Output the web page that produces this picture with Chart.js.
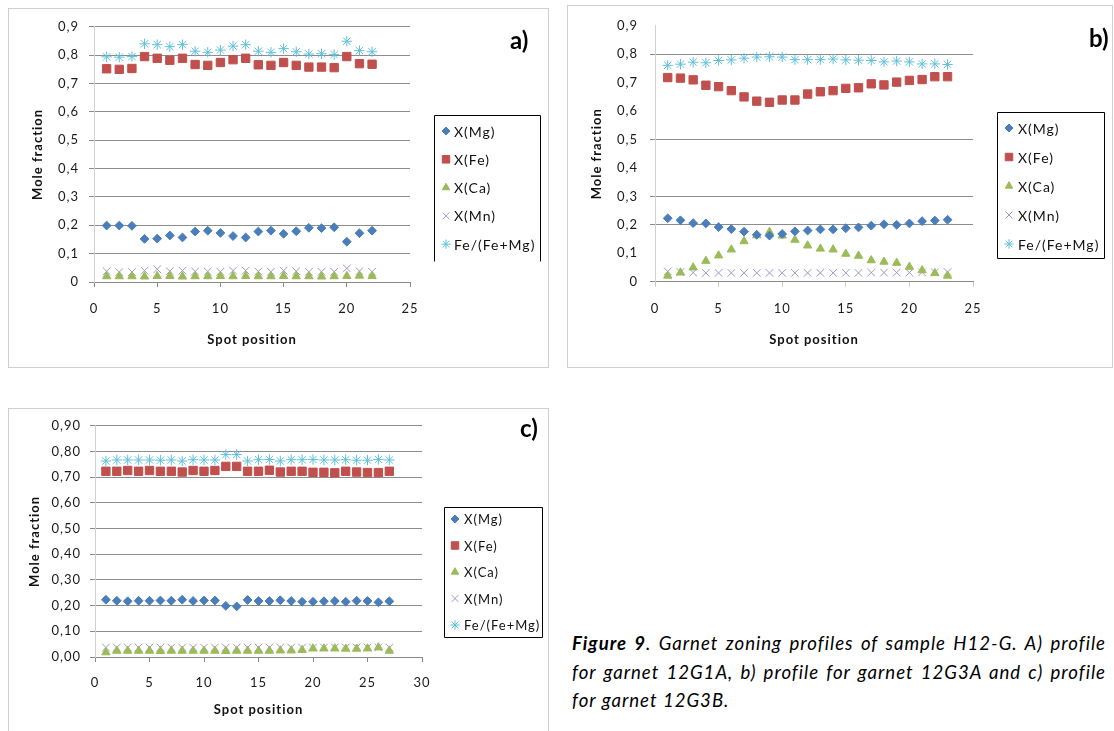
<!DOCTYPE html>
<html>
<head>
<meta charset="utf-8">
<script src="https://cdn.jsdelivr.net/npm/chart.js@4.4.1/dist/chart.umd.min.js"></script>
<style>
  html, body { margin:0; padding:0; background:#fff; }
  body { width:1114px; height:731px; position:relative; overflow:hidden; font-family: Lato, sans-serif; }
  .frame { position:absolute; box-sizing:border-box; border:1px solid #cfcfcf; background:#fff; }
  canvas { position:absolute; }
  .tag { position:absolute; font-weight:bold; font-size:24px; line-height:24px; color:#000; }
  .cap { position:absolute; left:572px; top:629px; width:534px; font-style:italic; font-size:18.6px; letter-spacing:1px; line-height:28.5px; color:#000; }
  .cap .j { text-align:justify; text-align-last:justify; white-space:nowrap; }
</style>
</head>
<body>
<div class="frame" style="left:8px;top:8px;width:541px;height:360px"></div>
<div class="frame" style="left:567px;top:5px;width:546px;height:363px"></div>
<div class="frame" style="left:8px;top:408px;width:541px;height:340px"></div>
<canvas id="ca" width="538" height="357" style="left:9px;top:9px"></canvas>
<canvas id="cb" width="543" height="360" style="left:568px;top:6px"></canvas>
<canvas id="cc" width="538" height="322" style="left:9px;top:409px"></canvas>
<div class="tag" style="left:510px;top:28px">a)</div>
<div class="tag" style="left:1089px;top:26px">b)</div>
<div class="tag" style="left:520px;top:416px">c)</div>
<div class="cap">
  <div class="j"><b>Figure 9</b>. Garnet zoning profiles of sample H12-G. A) profile</div>
  <div class="j">for garnet 12G1A, b) profile for garnet 12G3A and c) profile</div>
  <div>for garnet 12G3B.</div>
</div>
<script>
// ---------- data ----------
const seriesNames = ['X(Mg)', 'X(Fe)', 'X(Ca)', 'X(Mn)', 'Fe/(Fe+Mg)'];
const yLabelsAB = ['0', '0,1', '0,2', '0,3', '0,4', '0,5', '0,6', '0,7', '0,8', '0,9'];
const yLabelsC = ['0,00', '0,10', '0,20', '0,30', '0,40', '0,50', '0,60', '0,70', '0,80', '0,90'];

const spotsA = [1,2,3,4,5,6,7,8,9,10,11,12,13,14,15,16,17,18,19,20,21,22];
const mgA = [0.199,0.199,0.198,0.152,0.153,0.164,0.157,0.178,0.181,0.173,0.162,0.157,0.178,0.181,0.170,0.179,0.191,0.190,0.193,0.142,0.172,0.181];
const feA = [0.752,0.750,0.753,0.795,0.789,0.782,0.789,0.767,0.764,0.774,0.784,0.789,0.766,0.764,0.774,0.764,0.758,0.758,0.756,0.795,0.770,0.768];
const caA = [0.020,0.020,0.020,0.019,0.021,0.021,0.019,0.020,0.020,0.021,0.020,0.021,0.020,0.020,0.021,0.020,0.020,0.019,0.020,0.021,0.022,0.021];
const mnA = [0.038,0.035,0.035,0.040,0.045,0.038,0.040,0.037,0.037,0.036,0.040,0.040,0.037,0.036,0.040,0.038,0.036,0.036,0.036,0.048,0.038,0.036];
const ratioA = [0.794,0.793,0.795,0.840,0.837,0.830,0.837,0.814,0.810,0.818,0.832,0.837,0.814,0.810,0.823,0.812,0.804,0.805,0.802,0.849,0.816,0.812];

const spotsB = [1,2,3,4,5,6,7,8,9,10,11,12,13,14,15,16,17,18,19,20,21,22,23];
const mgB = [0.223,0.216,0.206,0.205,0.192,0.185,0.176,0.165,0.162,0.168,0.177,0.180,0.184,0.184,0.188,0.191,0.197,0.202,0.200,0.205,0.213,0.215,0.218];
const feB = [0.718,0.716,0.710,0.691,0.686,0.672,0.650,0.635,0.631,0.639,0.639,0.660,0.668,0.672,0.680,0.682,0.696,0.692,0.702,0.708,0.711,0.721,0.721];
const caB = [0.021,0.032,0.050,0.073,0.092,0.113,0.142,0.163,0.175,0.162,0.147,0.127,0.116,0.113,0.098,0.091,0.075,0.070,0.066,0.052,0.040,0.030,0.021];
const mnB = [0.036,0.034,0.032,0.031,0.031,0.031,0.031,0.031,0.031,0.031,0.031,0.031,0.031,0.031,0.031,0.031,0.032,0.032,0.032,0.032,0.033,0.033,0.034];
const ratioB = [0.761,0.765,0.772,0.770,0.778,0.780,0.786,0.790,0.791,0.790,0.781,0.781,0.781,0.783,0.780,0.779,0.778,0.773,0.776,0.773,0.766,0.766,0.764];

const spotsC = [1,2,3,4,5,6,7,8,9,10,11,12,13,14,15,16,17,18,19,20,21,22,23,24,25,26,27];
const mgC = [0.223,0.219,0.217,0.219,0.219,0.220,0.219,0.223,0.218,0.220,0.220,0.199,0.197,0.222,0.218,0.218,0.221,0.218,0.215,0.215,0.217,0.218,0.215,0.219,0.218,0.213,0.217];
const feC = [0.723,0.723,0.726,0.723,0.726,0.723,0.723,0.720,0.726,0.723,0.726,0.742,0.742,0.723,0.723,0.727,0.720,0.723,0.723,0.719,0.719,0.717,0.723,0.720,0.718,0.718,0.723];
const caC = [0.018,0.024,0.024,0.024,0.024,0.023,0.024,0.024,0.024,0.024,0.024,0.023,0.024,0.024,0.024,0.024,0.025,0.025,0.027,0.033,0.033,0.033,0.032,0.032,0.033,0.037,0.024];
const mnC = [0.037,0.037,0.037,0.037,0.037,0.037,0.037,0.037,0.037,0.037,0.037,0.037,0.037,0.037,0.037,0.037,0.037,0.037,0.037,0.037,0.037,0.037,0.037,0.037,0.037,0.037,0.037];
const ratioC = [0.763,0.767,0.767,0.767,0.767,0.766,0.767,0.763,0.768,0.767,0.767,0.788,0.788,0.763,0.768,0.769,0.763,0.768,0.768,0.769,0.767,0.767,0.768,0.766,0.766,0.769,0.767];

// gridlines that remain visible in chart b (by tick index)
const gridShownB = [0, 2, 3, 5, 8];

// ---------- styles ----------
const markerStyles = [
  { pointStyle:'rectRot',  radius:4.4, fill:'#4a7ebb', stroke:'#4a7ebb', bw:1 },
  { pointStyle:'rect',     radius:5.9, fill:'#c0504d', stroke:'#c0504d', bw:1 },
  { pointStyle:'triangle', radius:4.8, fill:'#9bbb59', stroke:'#9bbb59', bw:1 },
  { pointStyle:'crossRot', radius:5.4, fill:'#a493c8', stroke:'#a493c8', bw:1 },
  { pointStyle:'star',     radius:5.2, fill:'#5fc0dc', stroke:'#5fc0dc', bw:1 }
];

function makeDatasets(xs, ys) {
  return ys.map((vals, i) => ({
    label: seriesNames[i],
    data: xs.map((x, k) => ({ x: x, y: vals[k] })),
    showLine: false,
    pointStyle: markerStyles[i].pointStyle,
    pointRadius: markerStyles[i].radius,
    pointHoverRadius: markerStyles[i].radius,
    backgroundColor: markerStyles[i].fill,
    borderColor: markerStyles[i].stroke,
    borderWidth: markerStyles[i].bw
  }));
}

const spacingPlugin = {
  id: 'spacing',
  beforeDraw(chart) { chart.ctx.letterSpacing = '1px'; }
};

const boxLegend = {
  id: 'boxLegend',
  afterDraw(chart, args, o) {
    const ctx = chart.ctx;
    ctx.save();
    ctx.letterSpacing = '1px';
    ctx.strokeStyle = '#000';
    ctx.lineWidth = 1;
    ctx.beginPath();
    const L = Math.round(o.x) + 0.5, T = Math.round(o.y) + 0.5, R = Math.round(o.x + o.w) + 0.5, B = Math.round(o.y + o.h) + 0.5;
    ctx.moveTo(L, B); ctx.lineTo(L, T); ctx.lineTo(R, T); ctx.lineTo(R, B);
    if (o.closed) ctx.lineTo(L, B);
    ctx.stroke();
    ctx.font = o.fontSize + 'px Lato, sans-serif';
    ctx.textBaseline = 'middle';
    ctx.textAlign = 'left';
    chart.data.datasets.forEach((ds, i) => {
      const cy = o.firstY + i * o.gap;
      const ms = markerStyles[i];
      ctx.fillStyle = ms.fill;
      ctx.strokeStyle = ms.stroke;
      ctx.lineWidth = ms.bw;
      Chart.helpers.drawPoint(ctx, { pointStyle: ms.pointStyle, radius: ms.radius * 0.9, borderWidth: ms.bw, rotation: 0 }, o.x + o.markerX, cy);
      ctx.fillStyle = '#111';
      ctx.fillText(ds.label, o.x + o.textX, cy + 1);
    });
    ctx.restore();
  }
};

Chart.defaults.font.family = 'Lato, sans-serif';
Chart.defaults.color = '#1a1a1a';

function buildChart(id, spec) {
  const el = document.getElementById(id);
  const cw = el.width, ch = el.height;
  return new Chart(el, {
    type: 'scatter',
    data: { datasets: makeDatasets(spec.xs, spec.ys) },
    options: {
      responsive: false,
      animation: false,
      devicePixelRatio: 1,
      events: [],
      layout: { padding: { top: spec.area.top, right: cw - spec.area.right, bottom: 0, left: 0 } },
      plugins: {
        legend: { display: false },
        tooltip: { enabled: false },
        boxLegend: spec.legend
      },
      scales: {
        x: {
          type: 'linear', min: 0, max: spec.xMax,
          ticks: { stepSize: 5, padding: spec.xTickPad, maxRotation: 0, font: { size: 13 } },
          grid: { drawOnChartArea: false, drawTicks: true, tickLength: 5, color: spec.xTickColor },
          border: { color: '#8a8a8a', width: 1 },
          title: { display: true, text: 'Spot position', color: '#111', font: { size: 13, weight: 'bold' }, padding: { top: 0, bottom: spec.xTitlePad } },
          afterFit: s => { s.height = ch - spec.area.bottom; }
        },
        y: {
          type: 'linear', min: 0, max: 0.9,
          ticks: { stepSize: 0.1, padding: spec.yTickPad, font: { size: 13 }, callback: (v, i) => spec.yLabels[i] },
          grid: { tickLength: 5, color: spec.gridColor, lineWidth: 1 },
          border: { color: '#d2d2d2', width: 1 },
          title: { display: true, text: 'Mole fraction', color: '#111', font: { size: 13, weight: 'bold' }, padding: { top: spec.yTitlePad, bottom: 0 } },
          afterFit: s => { s.width = spec.area.left; }
        }
      }
    },
    plugins: [spacingPlugin, boxLegend]
  });
}

buildChart('ca', {
  xs: spotsA, ys: [mgA, feA, caA, mnA, ratioA], xMax: 25, yLabels: yLabelsAB,
  area: { left: 85, right: 401, top: 16, bottom: 273 },
  xTickPad: 14, xTitlePad: 18, yTickPad: 10, yTitlePad: 21,
  gridColor: '#8c8c8c', xTickColor: '#8a8a8a',
  legend: { x: 425, y: 106, w: 106, h: 146, closed: false, firstY: 122, gap: 28.3, markerX: 12, textX: 20, fontSize: 14 }
});

buildChart('cb', {
  xs: spotsB, ys: [mgB, feB, caB, mnB, ratioB], xMax: 25, yLabels: yLabelsAB,
  area: { left: 87, right: 405, top: 16.7, bottom: 275.7 },
  xTickPad: 14, xTitlePad: 18, yTickPad: 12, yTitlePad: 21,
  gridColor: c => gridShownB.includes(c.index) ? '#8c8c8c' : 'rgba(0,0,0,0)',
  xTickColor: '#c8c8c8',
  legend: { x: 429, y: 106, w: 107, h: 146, closed: true, firstY: 122, gap: 29, markerX: 12, textX: 21, fontSize: 14 }
});

buildChart('cc', {
  xs: spotsC, ys: [mgC, feC, caC, mnC, ratioC], xMax: 30, yLabels: yLabelsC,
  area: { left: 86, right: 413, top: 15.3, bottom: 248 },
  xTickPad: 13, xTitlePad: 13, yTickPad: 9, yTitlePad: 18,
  gridColor: '#8c8c8c', xTickColor: '#8a8a8a',
  legend: { x: 435, y: 98, w: 98, h: 130, closed: true, firstY: 110, gap: 26.5, markerX: 11, textX: 20, fontSize: 13 }
});
</script>
</body>
</html>
